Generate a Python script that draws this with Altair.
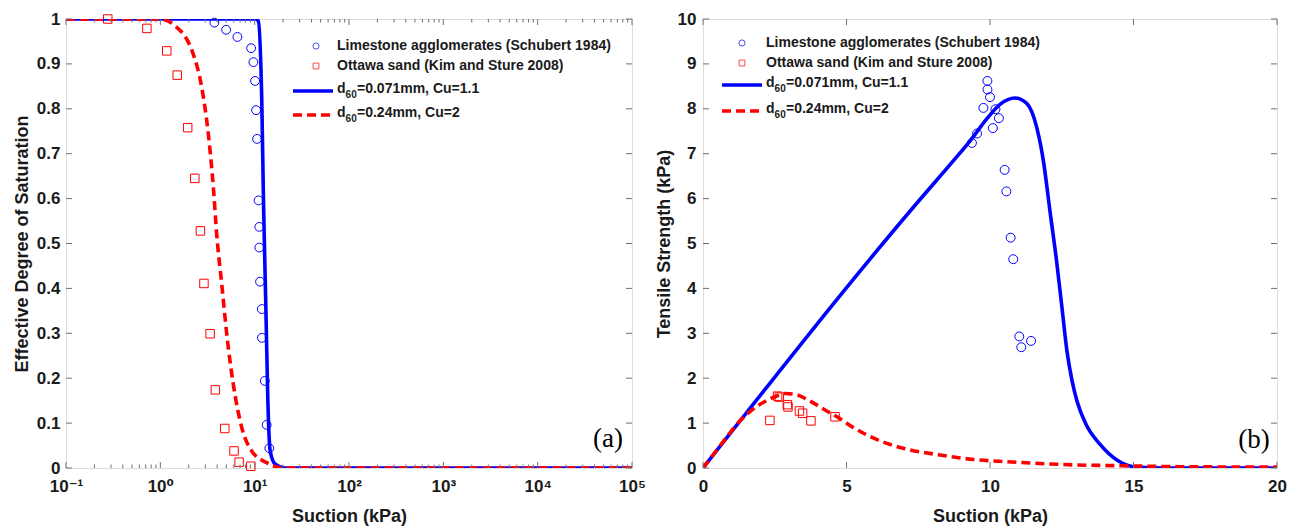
import altair as alt
import pandas as pd

# ---------------- Panel (a): effective degree of saturation vs suction ----------------
lime_sat_suction = [3.74, 4.98, 6.56, 9.17, 9.7, 10.1, 10.35, 10.6, 11.0, 11.2, 11.2, 11.4, 11.9, 11.95, 12.8, 13.4, 14.3]
lime_sat_value = [0.992, 0.976, 0.960, 0.935, 0.904, 0.862, 0.797, 0.733, 0.596, 0.537, 0.491, 0.415, 0.354, 0.290, 0.194, 0.096, 0.044]
ottawa_sat_suction = [0.277, 0.72, 1.17, 1.51, 1.95, 2.32, 2.66, 2.90, 3.37, 3.83, 4.82, 6.04, 6.84, 9.1]
ottawa_sat_value = [1.0, 0.979, 0.929, 0.875, 0.758, 0.645, 0.528, 0.411, 0.299, 0.174, 0.088, 0.038, 0.013, 0.004]

fit1_sat_suction = [0.1, 10.1, 10.9, 11.9, 12.4, 13.1, 13.8, 14.6, 16.4, 20.9, 100000]
fit1_sat_value = [1.0, 1.0, 0.996, 0.817, 0.594, 0.372, 0.149, 0.038, 0.009, 0.0, 0.0]
fit2_sat_suction = [0.1, 1.0, 1.37, 2.24, 2.75, 3.23, 3.65, 3.96, 4.48, 5.06, 5.94, 7.3, 9.3, 13.4, 20, 100000]
fit2_sat_value = [1.0, 1.0, 0.988, 0.921, 0.847, 0.743, 0.624, 0.520, 0.409, 0.298, 0.186, 0.090, 0.038, 0.012, 0.0, 0.0]

# ---------------- Panel (b): tensile strength vs suction ----------------
lime_ts_suction = [9.91, 9.91, 10.0, 9.77, 10.19, 10.31, 10.1, 9.55, 9.37, 10.51, 10.57, 10.72, 10.81, 11.02, 11.43, 11.09]
lime_ts_value = [8.62, 8.43, 8.26, 8.02, 7.99, 7.79, 7.57, 7.45, 7.24, 6.64, 6.16, 5.13, 4.65, 2.93, 2.83, 2.69]
ottawa_ts_suction = [2.33, 2.60, 2.66, 2.94, 2.96, 3.36, 3.47, 3.76, 4.60]
ottawa_ts_value = [1.06, 1.60, 1.58, 1.41, 1.36, 1.27, 1.22, 1.05, 1.14]

fit1_ts_suction = [0, 7.56, 8.72, 9.30, 9.88, 10.35, 10.87, 11.28, 11.63, 11.86, 12.09, 12.32, 12.52, 12.68,
                   12.86, 13.03, 13.34, 13.83, 14.46, 15.12, 16.0, 20.0]
fit1_ts_value = [0, 5.98, 6.84, 7.28, 7.77, 8.10, 8.24, 8.12, 7.58, 6.84, 5.72, 4.61, 3.50, 2.61,
                 1.94, 1.49, 0.98, 0.53, 0.16, 0.02, 0.0, 0.0]
fit2_ts_suction = [0, 0.59, 1.29, 1.99, 2.45, 2.86, 3.26, 3.73, 4.31, 4.77, 5.24, 5.93, 7.10, 8.26, 9.42,
                   10.58, 11.74, 12.9, 14.64, 16.39, 20.0]
fit2_ts_value = [0, 0.49, 1.05, 1.42, 1.57, 1.66, 1.63, 1.49, 1.27, 1.10, 0.90, 0.67, 0.42, 0.29, 0.19,
                 0.14, 0.10, 0.07, 0.05, 0.03, 0.02]

# ---------------- Axis ticks / labels ----------------
left_x_major = [0.1, 1, 10, 100, 1000, 10000, 100000]
left_x_minor = [m * d for d in [0.1, 1, 10, 100, 1000, 10000] for m in range(2, 10)]
left_y_ticks = [0, 0.1, 0.2, 0.3, 0.4, 0.5, 0.6, 0.7, 0.8, 0.9, 1]
right_x_ticks = [0, 5, 10, 15, 20]
right_y_ticks = [0, 1, 2, 3, 4, 5, 6, 7, 8, 9, 10]

legend_entries = ["Limestone agglomerates (Schubert 1984)", "Ottawa sand (Kim and Sture 2008)"]
fit_labels = [("d", "60", "=0.071mm, Cu=1.1"), ("d", "60", "=0.24mm, Cu=2")]

FONT = "Liberation Sans, DejaVu Sans"
SERIF = "Liberation Serif"
BLUE = "#0000FF"
RED = "#FF0000"
AXC = "#707070"
TXT = "#1a1a1a"
W1, W2, H = 566, 574, 449
DASH = [9, 5]
LW = 3.6

one = pd.DataFrame({"k": [0]})


def df(x, y):
    return pd.DataFrame({"x": x, "y": y})


def make_axis(title, values, label_expr=None, fmt=None, lab_pad=7, title_pad=6):
    kw = dict(values=values, title=title, ticks=False, domain=False, grid=False,
              labelFont=FONT, labelFontSize=17, labelFontWeight="bold", labelColor=TXT,
              labelPadding=lab_pad, labelFlush=False, labelOverlap=False,
              titleFont=FONT, titleFontSize=18, titleFontWeight="bold", titleColor=TXT,
              titlePadding=title_pad)
    if label_expr:
        kw["labelExpr"] = label_expr
    if fmt:
        kw["format"] = fmt
    return alt.Axis(**kw)


def panel(xscale, yscale, xaxis, yaxis, W, pts, lines, xmaj, xmin, yt, leg, tag):
    def X():
        return alt.X("x:Q", scale=xscale, axis=xaxis)

    def Y():
        return alt.Y("y:Q", scale=yscale, axis=yaxis)

    layers = []
    for (data, shape, color, size) in pts:
        layers.append(alt.Chart(data).mark_point(shape=shape, filled=False, size=size, color=color,
                                                  strokeWidth=1, opacity=1).encode(x=X(), y=Y()))
    for (data, color, dash) in lines:
        kw = dict(color=color, strokeWidth=LW, interpolate="monotone", clip=True)
        if dash:
            kw["strokeDash"] = dash
        layers.append(alt.Chart(data).mark_line(**kw).encode(x=X(), y=Y()))
    # inward ticks (box style)
    for vals, L in [(xmaj, 6), (xmin, 3.5)]:
        if not vals:
            continue
        d = pd.DataFrame({"x": vals})
        layers.append(alt.Chart(d).mark_rule(color=AXC, strokeWidth=1).encode(
            x=X(), y=alt.value(H), y2=alt.value(H - L)))
        layers.append(alt.Chart(d).mark_rule(color=AXC, strokeWidth=1).encode(
            x=X(), y=alt.value(0), y2=alt.value(L)))
    d = pd.DataFrame({"y": yt})
    layers.append(alt.Chart(d).mark_rule(color=AXC, strokeWidth=1).encode(
        y=Y(), x=alt.value(0), x2=alt.value(6)))
    layers.append(alt.Chart(d).mark_rule(color=AXC, strokeWidth=1).encode(
        y=Y(), x=alt.value(W), x2=alt.value(W - 6)))

    # legend
    mx, tx, lx1, lx2, rows = leg
    layers.append(alt.Chart(one).mark_point(shape="circle", filled=False, size=38, color=BLUE, strokeWidth=1)
                  .encode(x=alt.value(mx), y=alt.value(rows[0])))
    layers.append(alt.Chart(one).mark_point(shape="square", filled=False, size=34, color=RED, strokeWidth=1)
                  .encode(x=alt.value(mx), y=alt.value(rows[1])))
    for i, txt in enumerate(legend_entries):
        layers.append(alt.Chart(one).mark_text(text=txt, align="left", baseline="middle", font=FONT,
                                               fontSize=14, fontWeight="bold", color=TXT)
                      .encode(x=alt.value(tx), y=alt.value(rows[i])))
    for j, (color, dash) in enumerate([(BLUE, None), (RED, DASH)]):
        ry = rows[2 + j]
        kw = dict(color=color, strokeWidth=LW)
        if dash:
            kw["strokeDash"] = dash
        layers.append(alt.Chart(one).mark_rule(**kw).encode(
            x=alt.value(lx1), x2=alt.value(lx2), y=alt.value(ry + 1)))
        a, sub, rest = fit_labels[j]
        layers.append(alt.Chart(one).mark_text(text=a, align="left", baseline="middle", font=FONT,
                                               fontSize=14, fontWeight="bold", color=TXT)
                      .encode(x=alt.value(tx), y=alt.value(ry - 1)))
        layers.append(alt.Chart(one).mark_text(text=sub, align="left", baseline="middle", font=FONT,
                                               fontSize=10, fontWeight="bold", color=TXT)
                      .encode(x=alt.value(tx + 8.6), y=alt.value(ry + 5)))
        layers.append(alt.Chart(one).mark_text(text=rest, align="left", baseline="middle", font=FONT,
                                               fontSize=14, fontWeight="bold", color=TXT)
                      .encode(x=alt.value(tx + 20), y=alt.value(ry - 1)))
    # panel tag
    tg, tgx, tgy = tag
    layers.append(alt.Chart(one).mark_text(text=tg, align="center", baseline="middle", font=SERIF,
                                           fontSize=27, color="black")
                  .encode(x=alt.value(tgx), y=alt.value(tgy)))
    return alt.layer(*layers).properties(width=W, height=H)


left = panel(
    alt.Scale(type="log", domain=[0.1, 100000], nice=False),
    alt.Scale(domain=[0, 1], nice=False, zero=False),
    make_axis("Suction (kPa)", left_x_major,
              label_expr="['10⁻¹','10⁰','10¹','10²','10³','10⁴','10⁵'][round(log(datum.value)/LN10)+1]",
              lab_pad=10, title_pad=13),
    make_axis("Effective Degree of Saturation", left_y_ticks, fmt="~g", lab_pad=6, title_pad=5),
    W1,
    [(df(lime_sat_suction, lime_sat_value), "circle", BLUE, 78),
     (df(ottawa_sat_suction, ottawa_sat_value), "square", RED, 72)],
    [(df(fit1_sat_suction, fit1_sat_value), BLUE, None),
     (df(fit2_sat_suction, fit2_sat_value), RED, DASH)],
    left_x_major, left_x_minor, left_y_ticks,
    (250, 271, 227, 267, [27, 47, 71, 95]),
    ("(a)", 542, 420),
)

right = panel(
    alt.Scale(domain=[0, 20], nice=False),
    alt.Scale(domain=[0, 10], nice=False),
    make_axis("Suction (kPa)", right_x_ticks, lab_pad=10, title_pad=13),
    make_axis("Tensile Strength (kPa)", right_y_ticks, lab_pad=7, title_pad=4),
    W2,
    [(df(lime_ts_suction, lime_ts_value), "circle", BLUE, 80),
     (df(ottawa_ts_suction, ottawa_ts_value), "square", RED, 72)],
    [(df(fit1_ts_suction, fit1_ts_value), BLUE, None),
     (df(fit2_ts_suction, fit2_ts_value), RED, DASH)],
    right_x_ticks, [], right_y_ticks,
    (39, 63, 19, 59, [24, 44, 65, 91]),
    ("(b)", 551, 421),
)

chart = alt.hconcat(left, right, spacing=71, bounds="flush").properties(
    padding={"left": 12, "top": 9, "right": 8, "bottom": 3}
).configure_view(stroke=AXC, strokeWidth=1.2).configure(background="white")

chart.save("out.html", embed_options={"renderer": "svg", "actions": False})
